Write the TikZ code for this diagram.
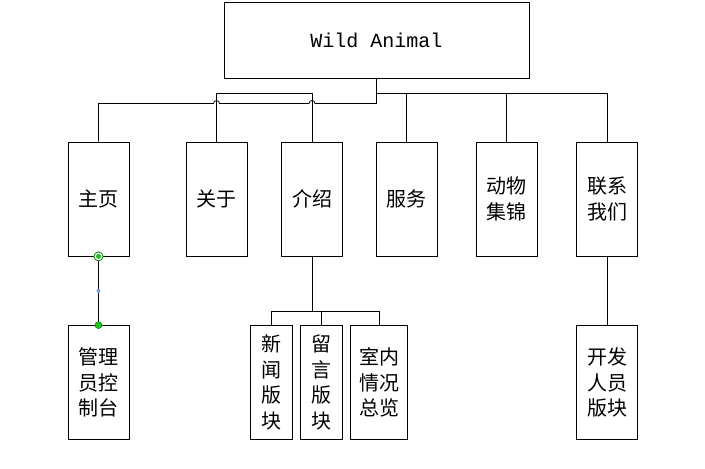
\documentclass[tikz,border=0pt]{standalone}
\usepackage{xcolor}
\usepackage{fontspec}
\usepackage{tikz}
\usetikzlibrary{calc}
\newfontfamily\cjk{Noto Sans CJK SC}
\newfontfamily\mono{Liberation Mono}
\definecolor{gluefill}{RGB}{34,190,34}
\definecolor{glueline}{RGB}{0,128,0}
\definecolor{gluemid}{RGB}{110,160,230}

\begin{document}
\begin{tikzpicture}[x=1pt, y=-1pt, line width=0.8pt,
	box/.style={draw, inner sep=0pt, align=center, minimum width=61pt,
	minimum height=114pt, font=\cjk\fontsize{20pt}{25.5pt}\selectfont},
	narrow/.style={box, minimum width=42pt}]

\useasboundingbox (0,0) rectangle (705,469);

\node[draw, minimum width=305pt, minimum height=76pt,
	font=\mono\fontsize{20pt}{24pt}\selectfont] (top) at (376.5,40.5) {Wild Animal};

\node[box] (home) at (98.5,199) {主页};
\node[box] (about) at (216.5,199) {关于};
\node[box] (intro) at (312,199) {介绍};
\node[box] (serv) at (406.5,199) {服务};
\node[box] (anim) at (506.5,199) {动物\\集锦};
\node[box] (cont) at (607,199) {联系\\我们};

\node[box] (admin) at (98.5,382.5) {管理\\员控\\制台};
\node[narrow] (news) at (271.4,382.5) {新\\闻\\版\\块};
\node[narrow] (msg) at (321.3,382.5) {留\\言\\版\\块};
\node[box, minimum width=57pt] (hall) at (379,382.5) {室内\\情况\\总览};
\node[box] (dev) at (607,382.5) {开发\\人员\\版块};

\coordinate (hi) at (0,93.5);
\coordinate (lo) at (0,103.5);
\coordinate (sub) at (0,311.5);

% top level
\draw (top.south) |- ([xshift=3pt]intro.north |- lo)
	arc[start angle=0, end angle=180, radius=3pt] -- ([xshift=3pt]about.north |- lo)
	arc[start angle=0, end angle=180, radius=3pt] -| (home.north);
\draw (about.north) |- (intro.north |- hi) -- (intro.north);
\foreach \n in {serv,anim,cont}
	\draw (top.south |- hi) -| (\n.north);

% second level
\draw (home.south) -- (admin.north);
\draw (intro.south) -- (intro.south |- sub);
\draw (news.north) |- (hall.north |- sub) -- (hall.north);
\draw (msg.north) -- (msg.north |- sub);
\draw (cont.south) -- (dev.north);

% glue points
\draw[glueline, fill=white, line width=0.8pt] (home.south) circle[radius=4.5pt];
\fill[gluefill] (home.south) circle[radius=2.5pt];
\fill[gluemid] ($(home.south)!0.5!(admin.north)$) circle[radius=2pt];
\draw[glueline, fill=gluefill, line width=0.5pt] (admin.north) circle[radius=3.5pt];
\end{tikzpicture}
\end{document}
